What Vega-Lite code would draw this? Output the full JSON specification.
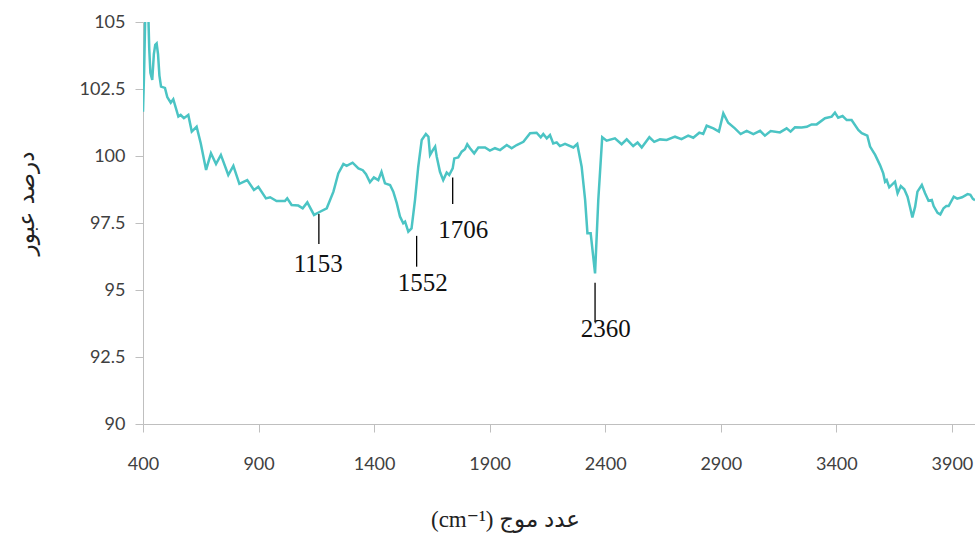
{
  "$schema": "https://vega.github.io/schema/vega-lite/v6.json",
  "width": 832,
  "height": 402,
  "autosize": {"type": "none"},
  "padding": {"left": 143, "top": 22, "right": 0, "bottom": 110},
  "background": "white",
  "config": {"view": {"stroke": null}},
  "datasets": {
    "spectrum": [
      {"w": 400, "t": 101.65}, {"w": 405, "t": 103.2}, {"w": 410, "t": 105.4}, {"w": 415, "t": 105.6},
      {"w": 422, "t": 105.6}, {"w": 427, "t": 104.0}, {"w": 432, "t": 103.1}, {"w": 440, "t": 102.84},
      {"w": 447, "t": 103.8}, {"w": 453, "t": 104.15}, {"w": 459, "t": 104.2}, {"w": 465, "t": 103.8},
      {"w": 471, "t": 103.0}, {"w": 478, "t": 102.59}, {"w": 495, "t": 102.54}, {"w": 505, "t": 102.2},
      {"w": 520, "t": 101.99}, {"w": 531, "t": 102.12}, {"w": 553, "t": 101.47}, {"w": 563, "t": 101.53},
      {"w": 577, "t": 101.41}, {"w": 596, "t": 101.53}, {"w": 611, "t": 100.91}, {"w": 632, "t": 101.09},
      {"w": 650, "t": 100.47}, {"w": 673, "t": 99.48}, {"w": 694, "t": 100.10}, {"w": 716, "t": 99.70},
      {"w": 737, "t": 100.04}, {"w": 769, "t": 99.29}, {"w": 791, "t": 99.63}, {"w": 817, "t": 98.96},
      {"w": 851, "t": 99.10}, {"w": 880, "t": 98.73}, {"w": 899, "t": 98.85}, {"w": 932, "t": 98.42},
      {"w": 950, "t": 98.46}, {"w": 978, "t": 98.32}, {"w": 1014, "t": 98.32}, {"w": 1024, "t": 98.42},
      {"w": 1043, "t": 98.17}, {"w": 1072, "t": 98.15}, {"w": 1091, "t": 98.05}, {"w": 1111, "t": 98.27},
      {"w": 1140, "t": 97.80}, {"w": 1166, "t": 97.92}, {"w": 1195, "t": 98.05}, {"w": 1224, "t": 98.67},
      {"w": 1245, "t": 99.35}, {"w": 1267, "t": 99.70}, {"w": 1281, "t": 99.63}, {"w": 1307, "t": 99.75},
      {"w": 1332, "t": 99.54}, {"w": 1351, "t": 99.47}, {"w": 1365, "t": 99.32}, {"w": 1382, "t": 99.02},
      {"w": 1399, "t": 99.20}, {"w": 1418, "t": 99.10}, {"w": 1432, "t": 99.41}, {"w": 1447, "t": 98.98},
      {"w": 1469, "t": 98.92}, {"w": 1483, "t": 98.67}, {"w": 1498, "t": 98.24}, {"w": 1512, "t": 97.74},
      {"w": 1526, "t": 97.49}, {"w": 1534, "t": 97.55}, {"w": 1548, "t": 97.18}, {"w": 1562, "t": 97.30},
      {"w": 1577, "t": 98.36}, {"w": 1591, "t": 99.60}, {"w": 1606, "t": 100.60}, {"w": 1624, "t": 100.82},
      {"w": 1635, "t": 100.72}, {"w": 1642, "t": 100.04}, {"w": 1654, "t": 100.22}, {"w": 1664, "t": 100.35},
      {"w": 1671, "t": 99.97}, {"w": 1685, "t": 99.41}, {"w": 1699, "t": 99.10}, {"w": 1714, "t": 99.38},
      {"w": 1725, "t": 99.29}, {"w": 1740, "t": 99.54}, {"w": 1747, "t": 99.91}, {"w": 1764, "t": 99.95},
      {"w": 1779, "t": 100.16}, {"w": 1793, "t": 100.25}, {"w": 1803, "t": 100.44}, {"w": 1815, "t": 100.29},
      {"w": 1833, "t": 100.10}, {"w": 1851, "t": 100.32}, {"w": 1880, "t": 100.32}, {"w": 1901, "t": 100.20},
      {"w": 1923, "t": 100.29}, {"w": 1945, "t": 100.22}, {"w": 1974, "t": 100.41}, {"w": 1995, "t": 100.29},
      {"w": 2017, "t": 100.41}, {"w": 2046, "t": 100.53}, {"w": 2075, "t": 100.85}, {"w": 2103, "t": 100.87},
      {"w": 2121, "t": 100.70}, {"w": 2132, "t": 100.82}, {"w": 2147, "t": 100.66}, {"w": 2161, "t": 100.78},
      {"w": 2175, "t": 100.47}, {"w": 2190, "t": 100.51}, {"w": 2204, "t": 100.37}, {"w": 2226, "t": 100.45},
      {"w": 2262, "t": 100.32}, {"w": 2279, "t": 100.45}, {"w": 2298, "t": 99.60}, {"w": 2313, "t": 98.36},
      {"w": 2323, "t": 97.12}, {"w": 2337, "t": 97.12}, {"w": 2356, "t": 95.62}, {"w": 2370, "t": 98.36},
      {"w": 2387, "t": 100.70}, {"w": 2406, "t": 100.57}, {"w": 2442, "t": 100.66}, {"w": 2471, "t": 100.44},
      {"w": 2493, "t": 100.62}, {"w": 2521, "t": 100.37}, {"w": 2540, "t": 100.50}, {"w": 2558, "t": 100.32},
      {"w": 2591, "t": 100.70}, {"w": 2612, "t": 100.53}, {"w": 2637, "t": 100.62}, {"w": 2666, "t": 100.60},
      {"w": 2702, "t": 100.72}, {"w": 2730, "t": 100.63}, {"w": 2759, "t": 100.76}, {"w": 2781, "t": 100.68},
      {"w": 2807, "t": 100.87}, {"w": 2824, "t": 100.82}, {"w": 2839, "t": 101.13}, {"w": 2868, "t": 101.03},
      {"w": 2892, "t": 100.91}, {"w": 2911, "t": 101.59}, {"w": 2932, "t": 101.24}, {"w": 2961, "t": 101.03},
      {"w": 2986, "t": 100.82}, {"w": 3012, "t": 100.94}, {"w": 3041, "t": 100.82}, {"w": 3070, "t": 100.94},
      {"w": 3091, "t": 100.76}, {"w": 3116, "t": 100.93}, {"w": 3156, "t": 100.88}, {"w": 3185, "t": 101.03},
      {"w": 3202, "t": 100.91}, {"w": 3221, "t": 101.07}, {"w": 3250, "t": 101.06}, {"w": 3272, "t": 101.09},
      {"w": 3293, "t": 101.18}, {"w": 3315, "t": 101.18}, {"w": 3351, "t": 101.41}, {"w": 3380, "t": 101.47},
      {"w": 3394, "t": 101.62}, {"w": 3408, "t": 101.43}, {"w": 3427, "t": 101.49}, {"w": 3445, "t": 101.34},
      {"w": 3466, "t": 101.34}, {"w": 3495, "t": 100.97}, {"w": 3510, "t": 100.85}, {"w": 3534, "t": 100.76},
      {"w": 3546, "t": 100.35}, {"w": 3568, "t": 100.04}, {"w": 3589, "t": 99.66}, {"w": 3603, "t": 99.35},
      {"w": 3611, "t": 99.04}, {"w": 3618, "t": 99.10}, {"w": 3629, "t": 98.83}, {"w": 3654, "t": 99.04},
      {"w": 3665, "t": 98.61}, {"w": 3679, "t": 98.88}, {"w": 3694, "t": 98.76}, {"w": 3708, "t": 98.48},
      {"w": 3720, "t": 98.05}, {"w": 3729, "t": 97.71}, {"w": 3741, "t": 98.11}, {"w": 3751, "t": 98.67},
      {"w": 3770, "t": 98.92}, {"w": 3784, "t": 98.61}, {"w": 3799, "t": 98.33}, {"w": 3813, "t": 98.36},
      {"w": 3821, "t": 98.13}, {"w": 3838, "t": 97.88}, {"w": 3850, "t": 97.82}, {"w": 3864, "t": 98.05},
      {"w": 3876, "t": 98.13}, {"w": 3886, "t": 98.13}, {"w": 3908, "t": 98.48}, {"w": 3923, "t": 98.41},
      {"w": 3944, "t": 98.46}, {"w": 3968, "t": 98.58}, {"w": 3980, "t": 98.55}, {"w": 3991, "t": 98.40},
      {"w": 4000, "t": 98.35}
    ],
    "marks": [
      {"w": 1161, "top": 97.84, "bottom": 96.72},
      {"w": 1584, "top": 97.02, "bottom": 95.87},
      {"w": 1740, "top": 99.2, "bottom": 98.21},
      {"w": 2356, "top": 95.27, "bottom": 93.8}
    ],
    "labels": [
      {"w": 1158, "t": 95.68, "label": "1153"},
      {"w": 1610, "t": 94.96, "label": "1552"},
      {"w": 1786, "t": 96.93, "label": "1706"},
      {"w": 2402, "t": 93.24, "label": "2360"}
    ]
  },
  "layer": [
    {
      "data": {"name": "spectrum"},
      "mark": {"type": "line", "color": "#4bc4c4", "strokeWidth": 2.5, "clip": true},
      "encoding": {
        "x": {
          "field": "w", "type": "quantitative",
          "scale": {"domain": [400, 4000], "nice": false, "zero": false},
          "axis": {
            "values": [400, 900, 1400, 1900, 2400, 2900, 3400, 3900],
            "labelExpr": "'' + datum.value",
            "labelFlush": false,
            "labelOverlap": false,
            "grid": false,
            "domainColor": "#bfbfbf",
            "tickColor": "#bfbfbf",
            "tickSize": 8,
            "labelPadding": 23,
            "labelFont": "Lato",
            "labelFontSize": 18,
            "labelColor": "#404040",
            "title": "(cm⁻¹) عدد موج",
            "titleFont": "Liberation Serif, DejaVu Sans",
            "titleFontSize": 23,
            "titleFontWeight": "normal",
            "titleColor": "#222222",
            "titleX": 362,
            "titleY": 95,
            "titleBaseline": "middle"
          }
        },
        "y": {
          "field": "t", "type": "quantitative",
          "scale": {"domain": [90, 105], "nice": false, "zero": false},
          "axis": {
            "values": [90, 92.5, 95, 97.5, 100, 102.5, 105],
            "labelExpr": "'' + datum.value",
            "labelFlush": false,
            "labelOverlap": false,
            "grid": false,
            "domainColor": "#bfbfbf",
            "tickColor": "#bfbfbf",
            "tickSize": 8,
            "labelPadding": 10,
            "labelFont": "Lato",
            "labelFontSize": 18,
            "labelColor": "#404040",
            "title": "درصد عبور",
            "titleFont": "DejaVu Sans",
            "titleFontSize": 23,
            "titleFontWeight": "normal",
            "titleColor": "#222222",
            "titleX": -117,
            "titleY": 181,
            "titleBaseline": "middle"
          }
        }
      }
    },
    {
      "data": {"name": "marks"},
      "mark": {"type": "rule", "color": "#000000", "strokeWidth": 1.3},
      "encoding": {
        "x": {"field": "w", "type": "quantitative"},
        "y": {"field": "top", "type": "quantitative"},
        "y2": {"field": "bottom"}
      }
    },
    {
      "data": {"name": "labels"},
      "mark": {"type": "text", "font": "Liberation Serif", "fontSize": 25, "color": "#111111", "align": "center", "baseline": "alphabetic"},
      "encoding": {
        "x": {"field": "w", "type": "quantitative"},
        "y": {"field": "t", "type": "quantitative"},
        "text": {"field": "label"}
      }
    }
  ]
}
